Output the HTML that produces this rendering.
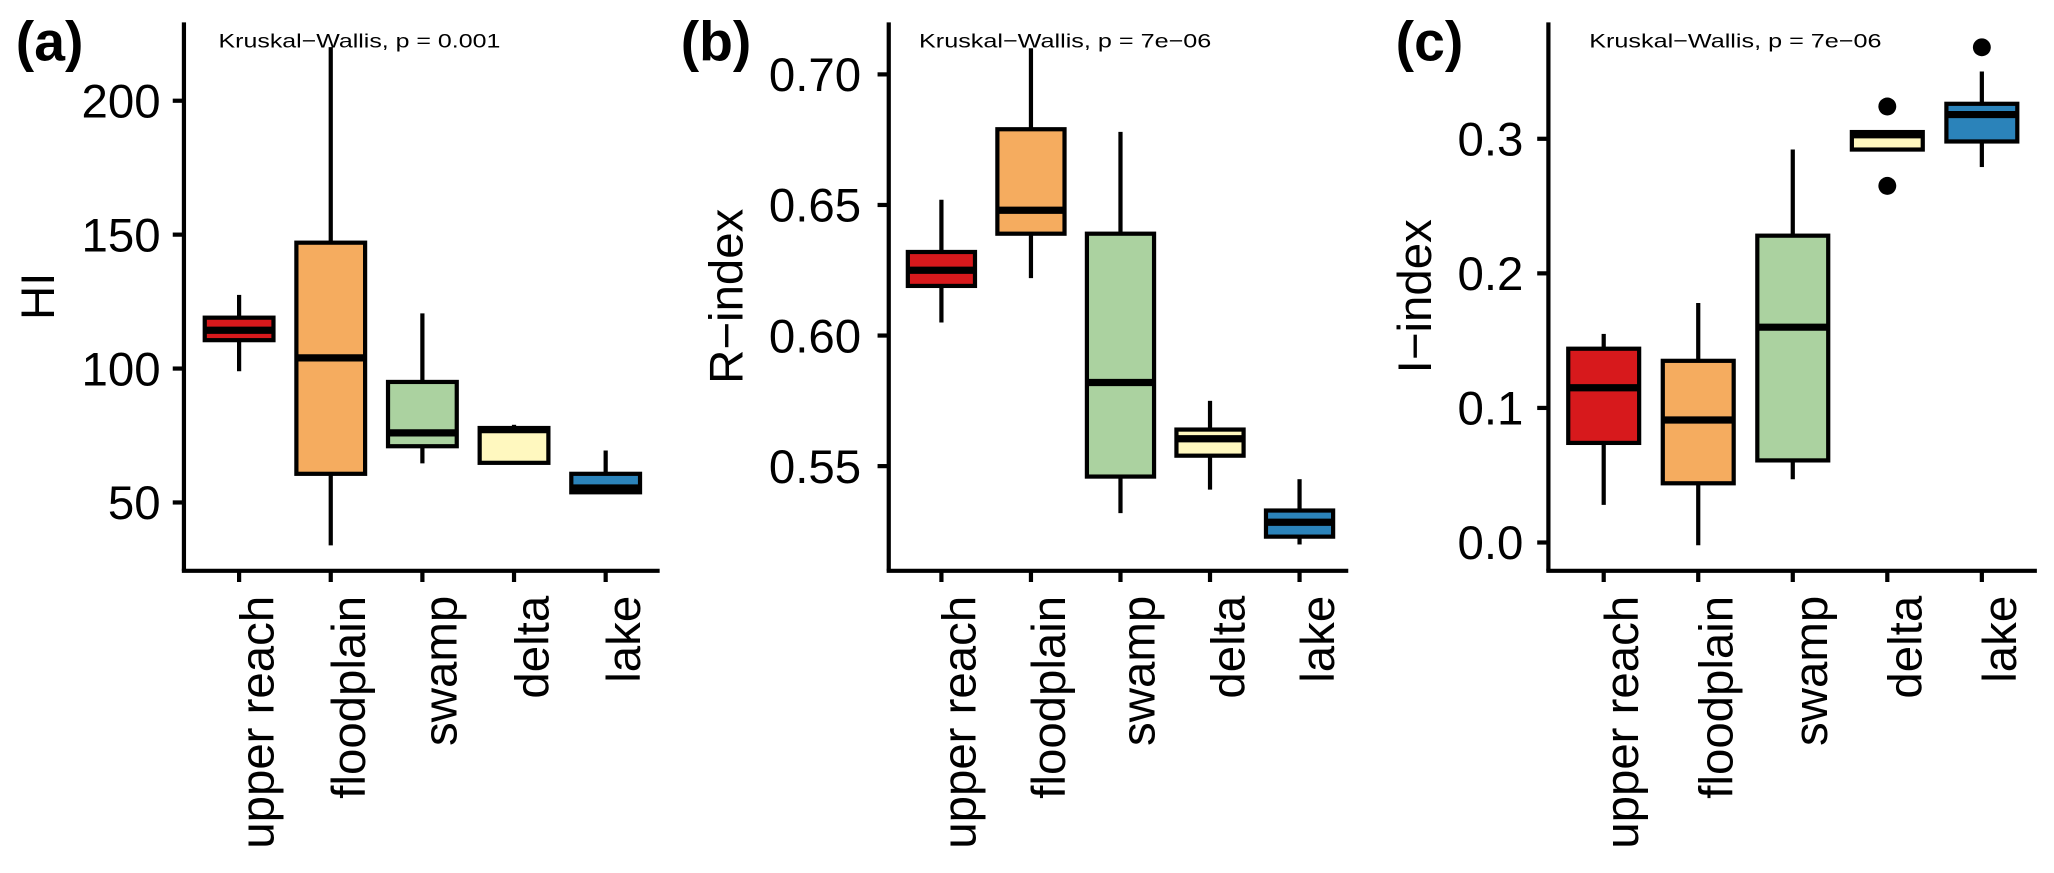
<!DOCTYPE html>
<html><head><meta charset="utf-8"><style>
html,body{margin:0;padding:0;background:#fff;}
svg{display:block;font-family:"Liberation Sans",Arial,sans-serif;}
</style></head><body>
<svg id="fig" width="2054" height="873" viewBox="0 0 1560 663" preserveAspectRatio="none" xmlns="http://www.w3.org/2000/svg"></svg>
<script>
const categories = ["upper reach","floodplain","swamp","delta","lake"];
const colors = ["#D7191C","#F5AC5F","#ABD2A0","#FFF8BF","#2B83BA"];
// panel a: HI
const hiWhiskLow  = [99, 34, 64.6, 64.8, 53.8];
const hiQ1        = [110.6, 60.7, 71, 64.8, 53.8];
const hiMedian    = [114.3, 104, 76, 77.2, 55.4];
const hiQ3        = [119, 147, 95, 77.8, 60.7];
const hiWhiskHigh = [127.5, 220, 120.6, 79, 69.4];
const hiOutliers  = [[],[],[],[],[]];
const hiTicks = [50,100,150,200];
const hiTickLabels = ["50","100","150","200"];
// panel b: R-index
const rWhiskLow  = [0.605, 0.622, 0.532, 0.541, 0.520];
const rQ1        = [0.619, 0.639, 0.546, 0.554, 0.523];
const rMedian    = [0.625, 0.648, 0.582, 0.5605, 0.5285];
const rQ3        = [0.632, 0.679, 0.639, 0.564, 0.533];
const rWhiskHigh = [0.652, 0.710, 0.678, 0.575, 0.545];
const rOutliers  = [[],[],[],[],[]];
const rTicks = [0.55,0.60,0.65,0.70];
const rTickLabels = ["0.55","0.60","0.65","0.70"];
// panel c: I-index
const iWhiskLow  = [0.028, -0.002, 0.047, 0.292, 0.279];
const iQ1        = [0.074, 0.044, 0.061, 0.292, 0.298];
const iMedian    = [0.115, 0.091, 0.160, 0.303, 0.318];
const iQ3        = [0.144, 0.135, 0.228, 0.305, 0.326];
const iWhiskHigh = [0.155, 0.178, 0.292, 0.305, 0.350];
const iOutliers  = [[],[],[],[0.324,0.265],[0.368]];
const iTicks = [0.0,0.1,0.2,0.3];
const iTickLabels = ["0.0","0.1","0.2","0.3"];

const NS="http://www.w3.org/2000/svg";
const svg=document.getElementById('fig');
function mk(tag,attrs,parent){const e=document.createElementNS(NS,tag);for(const k in attrs)e.setAttribute(k,attrs[k]);(parent||svg).appendChild(e);return e;}

const panels=[
 {id:'a',label:'(a)',labelX:12,ytitle:'HI',ytitleX:41,axisX:139.7,axisEnd:501,x0:181.6,dx:69.6,
  v0:50,y0:381.6,v1:200,y1:76.5,tickLabelX:122,kwX:166,kwW:214,kw:'Kruskal\u2212Wallis, p = 0.001',
  lo:hiWhiskLow,q1:hiQ1,med:hiMedian,q3:hiQ3,hi:hiWhiskHigh,out:hiOutliers,ticks:hiTicks,tl:hiTickLabels},
 {id:'b',label:'(b)',labelX:517,ytitle:'R\u2212index',ytitleX:564,axisX:675,axisEnd:1024,x0:715,dx:68,
  v0:0.55,y0:354,v1:0.70,y1:56.5,tickLabelX:654,kwX:698,kwW:222,kw:'Kruskal\u2212Wallis, p = 7e\u221206',
  lo:rWhiskLow,q1:rQ1,med:rMedian,q3:rQ3,hi:rWhiskHigh,out:rOutliers,ticks:rTicks,tl:rTickLabels},
 {id:'c',label:'(c)',labelX:1060,ytitle:'I\u2212index',ytitleX:1087,axisX:1176,axisEnd:1547,x0:1218,dx:71.8,
  v0:0.0,y0:412,v1:0.3,y1:105.4,tickLabelX:1157,kwX:1207,kwW:222,kw:'Kruskal\u2212Wallis, p = 7e\u221206',
  lo:iWhiskLow,q1:iQ1,med:iMedian,q3:iQ3,hi:iWhiskHigh,out:iOutliers,ticks:iTicks,tl:iTickLabels}
];

panels.forEach(p=>{
  const g=mk('g',{});
  
  
  const ys=v=>p.y0+(v-p.v0)*(p.y1-p.y0)/(p.v1-p.v0);
  const xs=i=>p.x0+i*p.dx;
  const bw=p.dx*0.375;
  const lab=mk('text',{x:p.labelX,y:46,'font-size':42,'font-weight':'bold',fill:'#000'},g);lab.textContent=p.label;
  
  
  const kw=mk('text',{x:p.kwX,y:36,'font-size':15,fill:'#000',textLength:p.kwW,lengthAdjust:'spacingAndGlyphs'},g);kw.textContent=p.kw;
  
  
  const yt=mk('text',{transform:`translate(${p.ytitleX},225) rotate(-90)`,'text-anchor':'middle','font-size':36,fill:'#000'},g);yt.textContent=p.ytitle;
  
  
  const ya=mk('line',{x1:p.axisX,y1:17,x2:p.axisX,y2:433.5,stroke:'#000','stroke-width':3.2},g);
  
  
  const xa=mk('line',{x1:p.axisX-1.6,y1:433.5,x2:p.axisEnd,y2:433.5,stroke:'#000','stroke-width':3.2},g);
  
  
  p.ticks.forEach((t,k)=>{
    const y=ys(t);
    const tk=mk('line',{x1:p.axisX-8.5,y1:y,x2:p.axisX,y2:y,stroke:'#000','stroke-width':3.2},g);
    
    
    const tl=mk('text',{x:p.tickLabelX,y:y+12.7,'text-anchor':'end','font-size':36,fill:'#000'},g);tl.textContent=p.tl[k];
    
    
  });
  categories.forEach((c,i)=>{
    const x=xs(i);
    const tk=mk('line',{x1:x,y1:433.5,x2:x,y2:442,stroke:'#000','stroke-width':3.2},g);
    
    
    const tl=mk('text',{transform:`translate(${x+26},452.5) rotate(-90)`,'text-anchor':'end','font-size':36,fill:'#000'},g);tl.textContent=c;
    
    
    const bg=mk('g',{},g);
    
    
    const w1=mk('line',{x1:x,y1:ys(p.hi[i]),x2:x,y2:ys(p.q3[i]),stroke:'#000','stroke-width':3.2},bg);
    
    
    const w2=mk('line',{x1:x,y1:ys(p.q1[i]),x2:x,y2:ys(p.lo[i]),stroke:'#000','stroke-width':3.2},bg);
    
    
    const r=mk('rect',{x:x-bw,y:ys(p.q3[i]),width:2*bw,height:Math.max(0.5,ys(p.q1[i])-ys(p.q3[i])),fill:colors[i],stroke:'#000','stroke-width':3.2},bg);
    
    
    const m=mk('line',{x1:x-bw,y1:ys(p.med[i]),x2:x+bw,y2:ys(p.med[i]),stroke:'#000','stroke-width':5.5},bg);
    
    
    p.out[i].forEach(o=>{
      const d=mk('circle',{cx:x,cy:ys(o),r:6.8,fill:'#000'},bg);
      
      
    });
  });
});
</script>
</body></html>
